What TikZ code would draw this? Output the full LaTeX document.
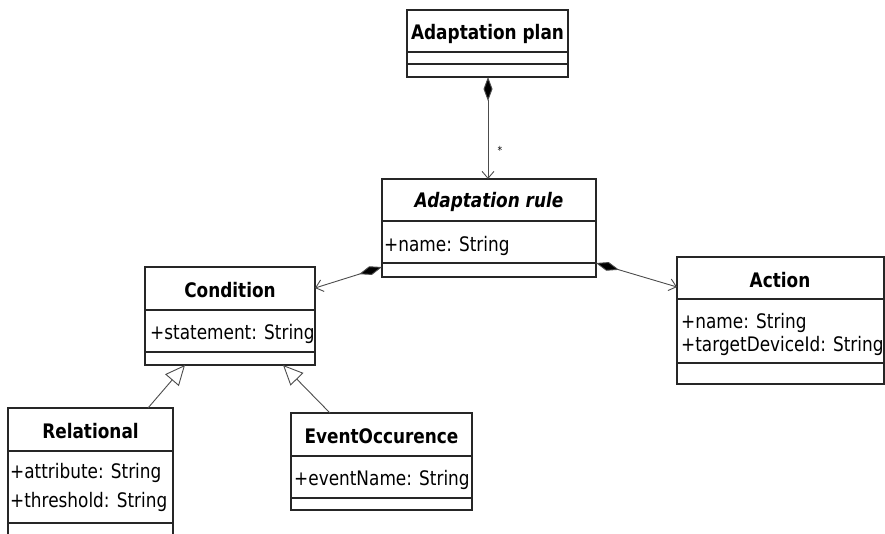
\documentclass[tikz,border=0pt]{standalone}
\usepackage{fontspec}
\setmainfont{DejaVu Sans}[FakeStretch=0.845]
\usetikzlibrary{arrows.meta,calc}
\begin{document}
\begin{tikzpicture}[x=1pt,y=-1pt,
  cls/.style={draw=black!85, line width=1.3pt, inner sep=0pt, outer sep=0pt, anchor=north west},
  sepline/.style={draw=black!85, line width=1.3pt},
  hdr/.style={font=\fontsize{20}{24}\selectfont\bfseries, inner sep=0pt, anchor=base},
  attr/.style={font=\fontsize{20}{24}\selectfont, inner sep=0pt, anchor=base west},
  comp/.style={draw=black!70, line width=0.9pt, {Diamond[length=24pt,width=9pt,fill=black]}-{Straight Barb[length=7pt,width=12pt]}},
  gen/.style={draw=black!70, line width=0.9pt, -{Triangle[open,length=20pt,width=18pt,fill=white]}},
  mult/.style={font=\fontsize{11}{12}\selectfont, inner sep=0pt}
]
\useasboundingbox (0,0) rectangle (885,533);
\clip (0,0) rectangle (885,533);

% Adaptation plan
\node[cls, minimum width=161pt, minimum height=67pt] (plan) at (407,10) {};
\draw[sepline] (407,52) -- (568,52);
\draw[sepline] (407,64) -- (568,64);
\node[hdr] (planT) at (487.5,39) {Adaptation plan};

% Adaptation rule
\node[cls, minimum width=214pt, minimum height=98pt] (rule) at (382,179) {};
\draw[sepline] (382,221) -- (596,221);
\draw[sepline] (382,263) -- (596,263);
\node[hdr, font=\fontsize{20}{24}\selectfont\bfseries\itshape] (ruleT) at (489,207) {Adaptation rule};
\node[attr] (ruleA) at (384,251) {+name: String};

% Condition
\node[cls, minimum width=170pt, minimum height=98pt] (cond) at (145,267) {};
\draw[sepline] (145,310) -- (315,310);
\draw[sepline] (145,352) -- (315,352);
\node[hdr] (condT) at (230,297) {Condition};
\node[attr] (condA) at (150,339) {+statement: String};

% Action
\node[cls, minimum width=207pt, minimum height=127pt] (action) at (677,257) {};
\draw[sepline] (677,299) -- (884,299);
\draw[sepline] (677,363) -- (884,363);
\node[hdr] (actionT) at (780,287) {Action};
\node[attr] (actionA1) at (681,328) {+name: String};
\node[attr] (actionA2) at (681,351) {+targetDeviceId: String};

% Relational
\node[cls, minimum width=165pt, minimum height=140pt] (rel) at (8,408) {};
\draw[sepline] (8,451) -- (173,451);
\draw[sepline] (8,523) -- (173,523);
\node[hdr] (relT) at (90.5,438) {Relational};
\node[attr] (relA1) at (10,478) {+attribute: String};
\node[attr] (relA2) at (10,507) {+threshold: String};

% EventOccurence
\node[cls, minimum width=181pt, minimum height=97pt] (event) at (291,413) {};
\draw[sepline] (291,456) -- (472,456);
\draw[sepline] (291,498) -- (472,498);
\node[hdr] (eventT) at (381.5,443) {EventOccurence};
\node[attr] (eventA) at (294,485) {+eventName: String};

% Connectors
\draw[comp] ($(plan.south)+(0.5,0)$) -- ($(rule.north)+(-1,0)$);
\node[mult] (star) at (500,150) {*};
\draw[comp] ($(rule.south west)+(0,-10)$) -- ($(cond.north east)+(0,21)$);
\draw[comp] ($(rule.south east)+(0,-14)$) -- ($(action.north west)+(0,30)$);
\draw[gen] ($(rel.north west)+(140,0)$) -- ($(cond.south west)+(40,0)$);
\draw[gen] ($(event.north west)+(39,0)$) -- ($(cond.south west)+(138,0)$);
\end{tikzpicture}
\end{document}
